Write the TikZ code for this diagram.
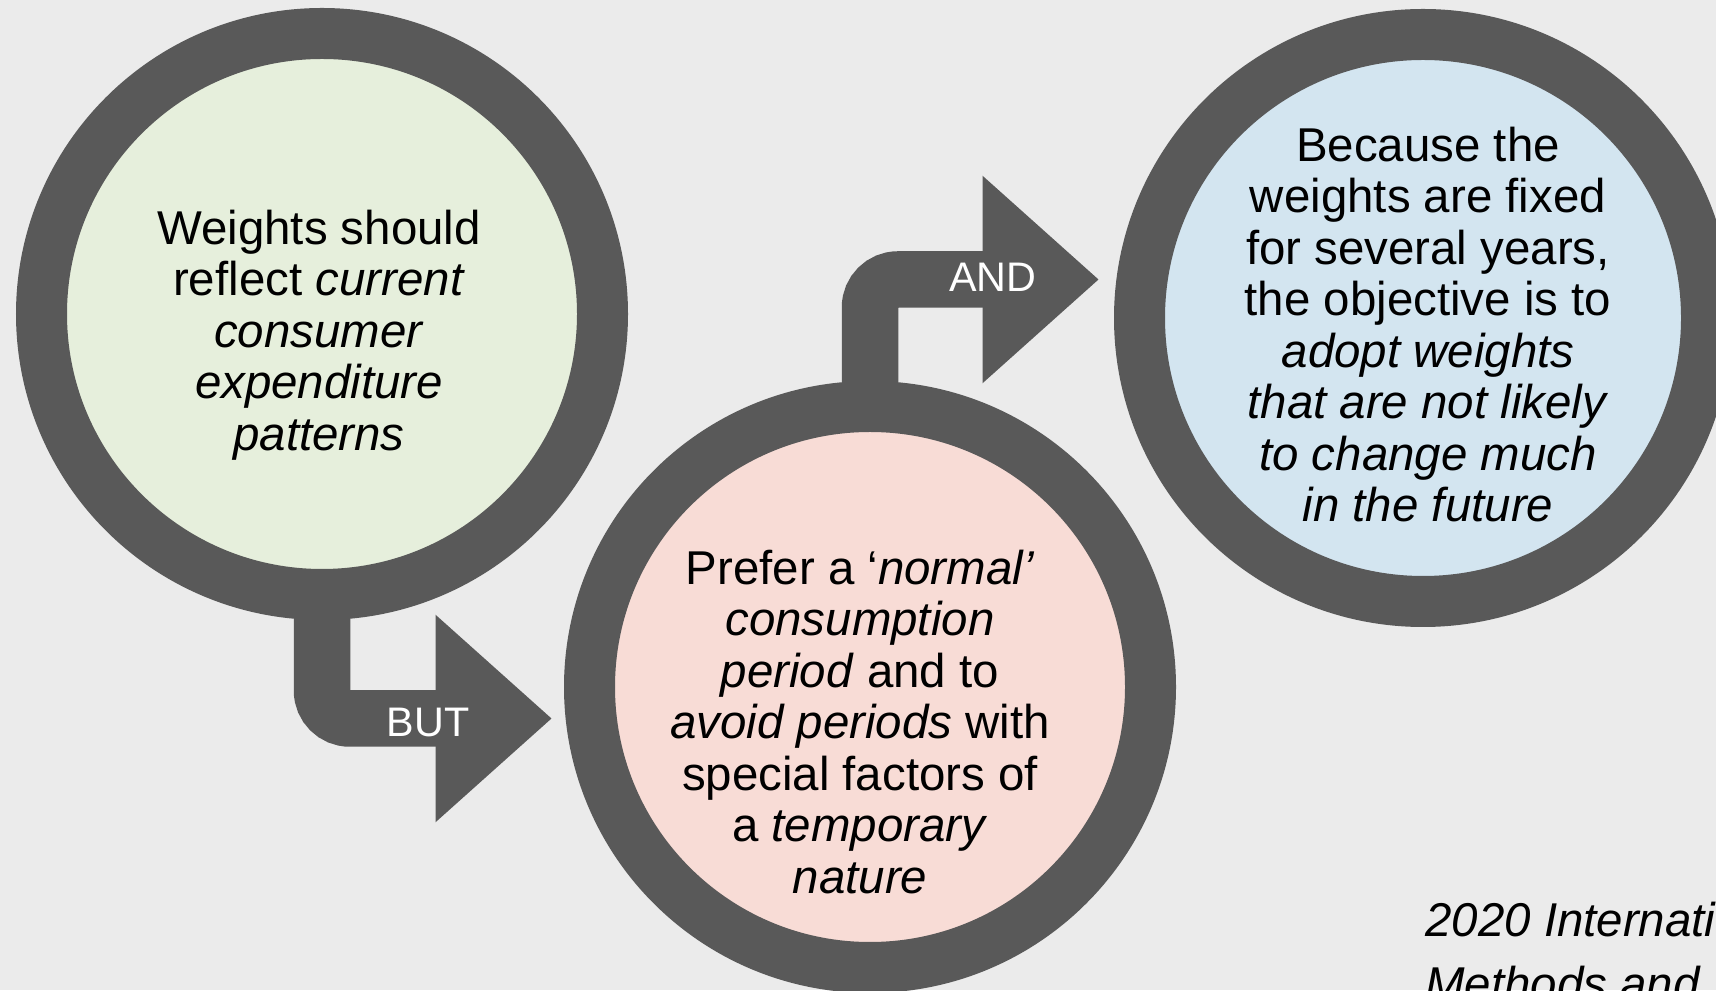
\documentclass[tikz,border=0pt]{standalone}
\usepackage{fontspec}
\setmainfont{Liberation Sans}
\usetikzlibrary{arrows.meta}

\definecolor{ringgray}{HTML}{595959}
\definecolor{bggray}{HTML}{EBEBEB}
\definecolor{leafgreen}{HTML}{E6EFDC}
\definecolor{rosepink}{HTML}{F8DCD6}
\definecolor{skyblue}{HTML}{D3E5F0}

\tikzset{
  bubble/.style={circle,draw=ringgray,line width=1.02cm,minimum size=11.22cm,inner sep=0pt},
  bubbletext/.style={align=center,font=\fontsize{27}{29.3}\selectfont},
  bentarrow/.style={draw=ringgray,line width=1.13cm,rounded corners=0.56cm,-{Triangle[length=2.33cm,width=4cm]}},
  arrowword/.style={text=white,font=\fontsize{23.5}{28}\selectfont}
}

\begin{document}
\begin{tikzpicture}
                % Page
                \fill[bggray] (0,0) rectangle (34.32,19.8);
                \clip (0,0) rectangle (34.32,19.8);

                % Circles
                \node[bubble,fill=leafgreen] (green) at (6.44,13.52) {};
                \node[bubble,fill=rosepink] (pink) at (17.4,6.06) {};
                \node[bubble,fill=skyblue,minimum size=11.34cm] (blue) at (28.46,13.44) {};

                % Arrow tips
                \coordinate (buttip) at (11.04,5.43);
                \coordinate (andtip) at (21.98,14.21);

                % Arrows
                \draw[bentarrow] ([yshift=0.3cm]green.south) |- (buttip);
                \draw[bentarrow] ([yshift=-0.3cm]pink.north) |- (andtip);
                \node[arrowword] (butword) at (8.56,5.36) {BUT};
                \node[arrowword] (andword) at (19.86,14.26) {AND};

                % Circle texts
                \node[bubbletext] (greentext) at (6.38,13.1) {Weights should\\reflect \textit{current}\\\textit{consumer}\\\textit{expenditure}\\\textit{patterns}};
                \node[bubbletext] (pinktext) at (17.2,5.36) {Prefer a `\textit{normal'}\\\textit{consumption}\\\textit{period} and to\\\textit{avoid periods} with\\special factors of\\a \textit{temporary}\\\textit{nature}};
                \node[bubbletext] (bluetext) at (28.56,13.31) {Because the\\weights are fixed\\for several years,\\the objective is to\\\textit{adopt weights}\\\textit{that are not likely}\\\textit{to change much}\\\textit{in the future}};

                % Source
                \node[anchor=north west,inner sep=0pt,align=left,font=\fontsize{27}{36.4}\selectfont\itshape] (source) at (28.5,1.76) {2020 International\\Methods and};
\end{tikzpicture}
\end{document}
